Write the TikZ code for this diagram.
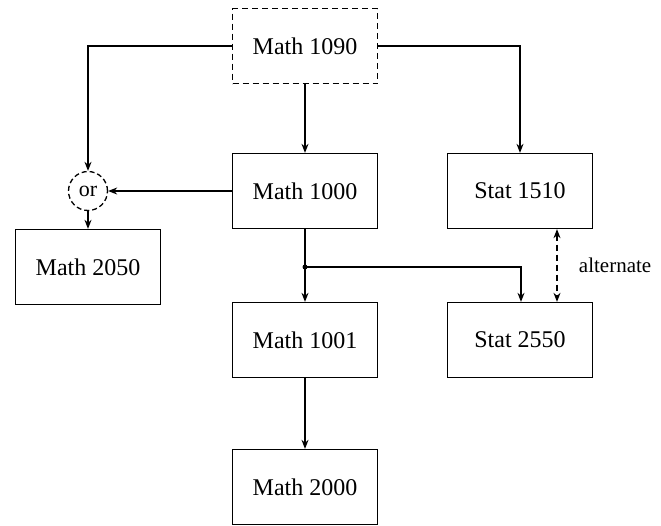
\documentclass[tikz,border=0pt]{standalone}
\usepackage{fontspec}
\setmainfont{Liberation Serif}
\usepackage{tikz}
\usetikzlibrary{arrows.meta,positioning}

\begin{document}
\begin{tikzpicture}[x=1pt,y=-1pt,-{Stealth[length=9pt,width=7pt]},line width=1.3pt,
font=\fontsize{24}{28}\selectfont]
\tikzstyle{course}=[draw=black,rectangle,minimum width=145pt,minimum height=75pt,inner sep=0pt]
\tikzstyle{optional}=[course,dash pattern=on 6pt off 4pt]
\tikzstyle{choice}=[draw=black,circle,dash pattern=on 5pt off 3pt,minimum size=39pt,inner sep=0pt,
font=\fontsize{22}{24}\selectfont]

\useasboundingbox (0,0) rectangle (661,525);

\node[optional]	(m1090) at (305,46)		{Math 1090};	% placement
\node[course]	(m1000) at (305,191)	{Math 1000};
\node[course]	(s1510) at (520,191)	{Stat 1510};
\node[choice]	(or)	at (88,191)		{or};
\node[course]	(m2050) at (88,267)		{Math 2050};
\node[course]	(m1001) at (305,340)	{Math 1001};
\node[course]	(s2550) at (520,340)	{Stat 2550};
\node[course]	(m2000) at (305,487)	{Math 2000};

\coordinate (split) at (305,267);

\draw (m1090.west) -| (or.north);
\draw (m1090.east) -| (s1510.north);
\path[draw]
(m1090) edge			node {}		(m1000)
(m1000) edge			node {}		(or)
(or)	edge			node {}		(m2050)
(m1001) edge			node {}		(m2000);

\draw[-] (m1000.south) -- (split);
\fill (split) circle (2.5pt);
\draw (split) -- (m1001.north);
\draw (split) -| ([xshift=1pt]s2550.north);

\draw[{Stealth[length=9pt,width=7pt]}-{Stealth[length=9pt,width=7pt]},dash pattern=on 6pt off 4pt]
([xshift=37pt]s1510.south) -- ([xshift=37pt]s2550.north)
node [right=18pt,midway,font=\fontsize{21}{24}\selectfont] {alternate};

\end{tikzpicture}
\end{document}
